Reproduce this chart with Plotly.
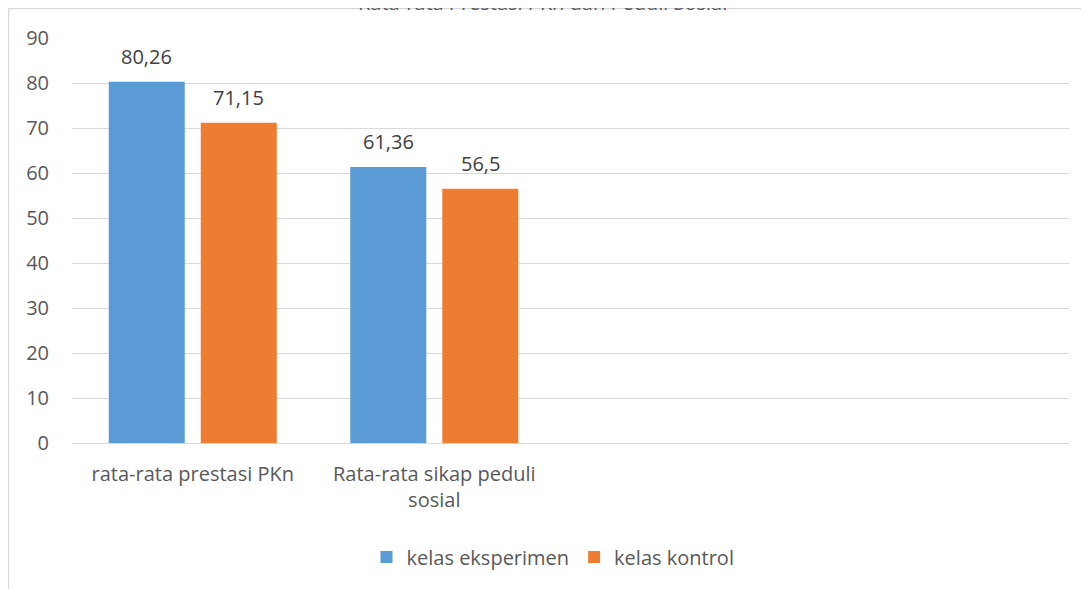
import plotly.graph_objects as go

categories = ["rata-rata prestasi PKn", "Rata-rata sikap peduli<br>sosial", " ", "  "]
eksperimen = [80.26, 61.36, None, None]
kontrol = [71.15, 56.5, None, None]
y_ticks = [0, 10, 20, 30, 40, 50, 60, 70, 80, 90]
title_text = "Rata-rata Prestasi PKn dan Peduli Sosial"

def fmt(v):
    return ("%g" % v).replace(".", ",")

FONT = "Open Sans, sans-serif"
FS = 20
W, H = 1089, 589
# figure is drawn offset by the page's 8px body margin
L, T = 64, 30
R = W - 1061
B = H - 435
pw = W - L - R
ph = H - T - B

fig = go.Figure()
fig.add_trace(go.Bar(
    name="kelas eksperimen", x=categories, y=eksperimen,
    marker=dict(color="#5B9BD5", line=dict(width=0)),
))
fig.add_trace(go.Bar(
    name="kelas kontrol", x=categories, y=kontrol,
    marker=dict(color="#EE7D31", line=dict(width=0)),
))

annotations = []
for series, xs in ((eksperimen, -46), (kontrol, 46)):
    for c, v in zip(categories, series):
        if v is None:
            continue
        annotations.append(dict(x=c, y=v, xref="x", yref="y", text=fmt(v), showarrow=False,
                                xshift=xs, yshift=25, yanchor="middle",
                                font=dict(size=FS, color="#404040", family=FONT)))
annotations.append(dict(text=title_text, xref="paper", yref="paper", x=(534 - L) / pw,
                        y=1 + (T + 6) / ph, xanchor="center", yanchor="middle", showarrow=False,
                        font=dict(size=FS, color="#595959", family=FONT)))

fig.update_layout(
    width=W, height=H,
    margin=dict(l=L, r=R, t=T, b=B, autoexpand=False),
    paper_bgcolor="white", plot_bgcolor="white",
    font=dict(family=FONT, size=FS, color="#595959"),
    barmode="group", bargap=0.238, bargroupgap=0.174,
    showlegend=True,
    legend=dict(orientation="h", x=(545 - L) / pw, xanchor="center",
                y=-(549 - (H - B)) / ph, yanchor="middle",
                font=dict(size=FS, color="#595959"), itemwidth=30, traceorder="normal"),
    xaxis=dict(range=[-0.5, 3.628], showgrid=False, showline=False, ticks="",
               tickfont=dict(size=FS, color="#595959"), fixedrange=True, automargin=False,
               ticklabelstandoff=17),
    yaxis=dict(range=[0, 90], tickvals=y_ticks, showgrid=True, gridcolor="#D9D9D9", gridwidth=1,
               zeroline=True, zerolinecolor="#D9D9D9", zerolinewidth=1, showline=False,
               tickfont=dict(size=FS, color="#595959"), ticklabelstandoff=22, automargin=False),
    shapes=[
        dict(type="line", xref="paper", yref="paper", x0=-L / pw, x1=(W - L + 5) / pw,
             y0=1 + (T - 0.5) / ph, y1=1 + (T - 0.5) / ph, line=dict(color="#D9D9D9", width=1.5)),
        dict(type="line", xref="paper", yref="paper", x0=-(L - 0.5) / pw, x1=-(L - 0.5) / pw,
             y0=1 + (T - 0.5) / ph, y1=-(B + 5) / ph, line=dict(color="#D9D9D9", width=1.5)),
    ],
    annotations=annotations,
)

fig.write_html("out.html")
